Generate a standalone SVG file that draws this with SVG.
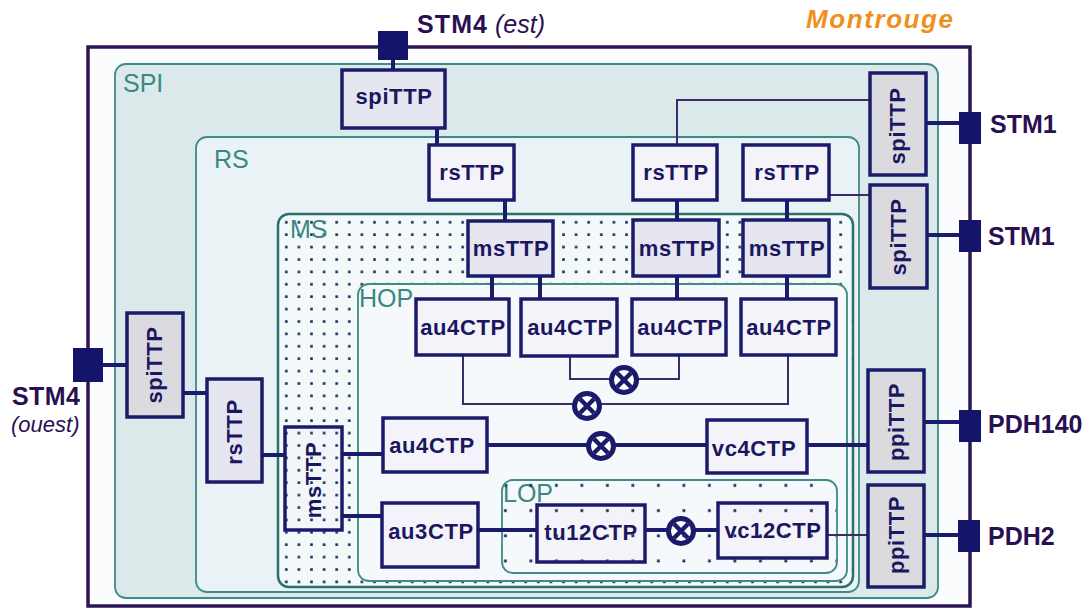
<svg xmlns="http://www.w3.org/2000/svg" width="1090" height="610" viewBox="0 0 1090 610">
<defs>
<pattern id="msdots" patternUnits="userSpaceOnUse" x="280" y="216" width="12.6" height="12.4">
<rect x="5" y="5" width="2.6" height="2.6" fill="#1c2a5e"/>
</pattern>
<pattern id="lopdots" patternUnits="userSpaceOnUse" x="493" y="474" width="25.5" height="25.2">
<rect x="11" y="10" width="2.8" height="2.8" fill="#1c2a5e"/>
</pattern>
<style>
.cont{stroke:#3f8b87;stroke-width:1.8}
.clab{font-family:"Liberation Sans",Arial,sans-serif;font-size:25px;fill:#3b8782}
.box{stroke:#1b1b6b;stroke-width:3.5}
.ttp{fill:#e6e6f0}
.vttp{fill:#dadadf}
.ctp{fill:#f3f3f9}
.t{font-family:"Liberation Sans",Arial,sans-serif;font-size:22px;font-weight:bold;fill:#1a1660;text-anchor:middle;letter-spacing:0.6px}
.port{fill:#14146a}
.thick{stroke:#1b1b6b;stroke-width:4;fill:none}
.thin{stroke:#3b2b6b;stroke-width:2;fill:none}
.ext{font-family:"Liberation Sans",Arial,sans-serif;font-size:25px;font-weight:bold;fill:#2a1052}
.xc circle{fill:#ffffff;stroke:#1b1b6b;stroke-width:5}
.xc path{stroke:#1b1b6b;stroke-width:4.5}
</style>
</defs>
<rect width="1090" height="610" fill="#ffffff"/>

<!-- titles -->
<text x="806" y="28" font-family="Liberation Sans,Arial,sans-serif" font-size="26" font-weight="bold" font-style="italic" fill="#f0901c" textLength="147" lengthAdjust="spacing">Montrouge</text>
<text x="417" y="33" class="ext"><tspan textLength="70">STM4</tspan><tspan font-weight="normal" font-style="italic"> (est)</tspan></text>

<!-- outer box -->
<g id="outer">
<rect x="88" y="47" width="882" height="559" fill="#fbfcfe" stroke="#2d1555" stroke-width="3.5"/>
</g>

<!-- containers -->
<g id="SPI">
<rect class="cont" x="115" y="64" width="823" height="534" rx="11" fill="#dbe9ea"/>
<text class="clab" x="123" y="92">SPI</text>
</g>
<g id="RS">
<rect class="cont" x="196" y="137" width="663" height="455" rx="11" fill="#e9f3f5"/>
<text class="clab" x="214" y="168">RS</text>
</g>
<g id="MS">
<rect x="278" y="214" width="575" height="373" rx="11" fill="#f3f8f9"/>
<rect x="278" y="214" width="575" height="373" rx="11" fill="url(#msdots)" stroke="#2f6f6a" stroke-width="2.5"/>
<text class="clab" x="290" y="238" fill="#2e7a74">MS</text>
</g>
<g id="HOP">
<rect class="cont" x="358" y="284" width="489" height="297" rx="11" fill="#f6f9fc"/>
<text class="clab" x="359" y="307">HOP</text>
</g>
<g id="LOP">
<rect class="cont" x="502" y="480" width="335" height="93" rx="11" fill="#f6f9fc"/>
<text class="clab" x="503" y="502">LOP</text>
</g>

<!-- connectors -->
<g id="connectors">
<path class="thick" d="M393,60V70"/>
<path class="thick" d="M437,128V145"/>
<path class="thick" d="M505,200V221"/>
<path class="thick" d="M677,200V220"/>
<path class="thick" d="M787,200V220"/>
<path class="thick" d="M492,276V299M540,276V299"/>
<path class="thick" d="M677,276V299"/>
<path class="thick" d="M787,276V299"/>
<path class="thin" d="M870,100H677V145"/>
<path class="thin" d="M829,195H870"/>
<path class="thick" d="M926,123H959M927,235H959M924,422H959M924,535H958"/>
<path class="thin" d="M463,355V404H788V355"/>
<path class="thin" d="M570,356V379H679V355"/>
<path class="thick" d="M102,365H127M183,393H207M262,455H285"/>
<path class="thick" d="M342,454H383M342,516H382"/>
<path class="thick" d="M487,445H707M807,445H868"/>
<path class="thick" d="M478,530H537M645,530H718"/>
<path class="thin" d="M827,535H868"/>
</g>

<!-- cross-connects -->
<g id="xc1" class="xc"><circle cx="624" cy="380" r="12.5"/><path d="M617,373L631,387M631,373L617,387"/></g>
<g id="xc2" class="xc"><circle cx="587" cy="406" r="12.5"/><path d="M580,399L594,413M594,399L580,413"/></g>
<g id="xc3" class="xc"><circle cx="601" cy="446" r="12.5"/><path d="M594,439L608,453M608,439L594,453"/></g>
<g id="xc4" class="xc"><circle cx="681" cy="531" r="12.5"/><path d="M674,524L688,538M688,524L674,538"/></g>

<!-- ports -->
<g id="port-stm4-est"><rect class="port" x="378" y="31" width="30" height="29"/></g>
<g id="port-stm4-ouest"><rect class="port" x="73" y="348" width="30" height="34"/></g>
<g id="port-stm1-a"><rect class="port" x="959" y="112" width="22" height="32"/></g>
<g id="port-stm1-b"><rect class="port" x="959" y="220" width="22" height="32"/></g>
<g id="port-pdh140"><rect class="port" x="959" y="410" width="22" height="32"/></g>
<g id="port-pdh2"><rect class="port" x="958" y="520" width="22" height="32"/></g>

<!-- external labels -->
<g id="lab-left">
<text class="ext" x="12" y="405" font-size="24" textLength="68">STM4</text>
<text x="11" y="432" font-family="Liberation Sans,Arial,sans-serif" font-size="22" font-style="italic" fill="#2a1052">(ouest)</text>
</g>
<text class="ext" x="990" y="133">STM1</text>
<text class="ext" x="988" y="245">STM1</text>
<text class="ext" x="988" y="433">PDH140</text>
<text class="ext" x="988" y="545">PDH2</text>

<!-- nodes -->
<g id="spiTTP-top"><rect class="box ttp" x="342" y="70" width="103" height="58"/><text class="t" x="394" y="104">spiTTP</text></g>
<g id="rsTTP-1"><rect class="box ctp" x="429" y="145" width="85" height="55"/><text class="t" x="472" y="180">rsTTP</text></g>
<g id="rsTTP-2"><rect class="box ctp" x="633" y="145" width="84" height="55"/><text class="t" x="676" y="180">rsTTP</text></g>
<g id="rsTTP-3"><rect class="box ctp" x="743" y="145" width="86" height="55"/><text class="t" x="787" y="180">rsTTP</text></g>
<g id="msTTP-1"><rect class="box ttp" x="468" y="221" width="85" height="55"/><text class="t" x="511" y="256">msTTP</text></g>
<g id="msTTP-2"><rect class="box ttp" x="633" y="220" width="86" height="56"/><text class="t" x="677" y="256">msTTP</text></g>
<g id="msTTP-3"><rect class="box ttp" x="743" y="220" width="86" height="56"/><text class="t" x="787" y="256">msTTP</text></g>
<g id="au4CTP-1"><rect class="box ctp" x="416" y="299" width="93" height="56"/><text class="t" x="463" y="335">au4CTP</text></g>
<g id="au4CTP-2"><rect class="box ctp" x="521" y="299" width="96" height="57"/><text class="t" x="570" y="335">au4CTP</text></g>
<g id="au4CTP-3"><rect class="box ctp" x="632" y="299" width="94" height="56"/><text class="t" x="680" y="335">au4CTP</text></g>
<g id="au4CTP-4"><rect class="box ctp" x="741" y="299" width="95" height="56"/><text class="t" x="789" y="335">au4CTP</text></g>
<g id="au4CTP-5"><rect class="box ctp" x="383" y="418" width="104" height="54"/><text class="t" x="432" y="453">au4CTP</text></g>
<g id="vc4CTP"><rect class="box ctp" x="707" y="420" width="100" height="53"/><text class="t" x="754" y="456">vc4CTP</text></g>
<g id="au3CTP"><rect class="box ctp" x="382" y="503" width="96" height="64"/><text class="t" x="431" y="539">au3CTP</text></g>
<g id="tu12CTP"><rect class="box ctp" x="537" y="505" width="108" height="57"/><text class="t" x="591" y="540">tu12CTP</text></g>
<g id="vc12CTP"><rect class="box ctp" x="718" y="503" width="109" height="55"/><text class="t" x="773" y="538">vc12CTP</text></g>
<g id="spiTTP-left"><rect class="box vttp" x="127" y="313" width="56" height="104"/><text class="t" transform="translate(162,365) rotate(-90)">spiTTP</text></g>
<g id="rsTTP-left"><rect class="box ttp" x="207" y="379" width="55" height="103"/><text class="t" transform="translate(242,432) rotate(-90)">rsTTP</text></g>
<g id="msTTP-left"><rect x="285" y="427" width="57" height="103" fill="#f3f6f8"/><rect class="box" x="285" y="427" width="57" height="103" fill="url(#msdots)"/><text class="t" transform="translate(321,480) rotate(-90)">msTTP</text></g>
<g id="spiTTP-r1"><rect class="box vttp" x="870" y="73" width="56" height="102"/><text class="t" transform="translate(905,126) rotate(-90)">spiTTP</text></g>
<g id="spiTTP-r2"><rect class="box vttp" x="870" y="185" width="57" height="103"/><text class="t" transform="translate(906,237) rotate(-90)">spiTTP</text></g>
<g id="ppiTTP-1"><rect class="box vttp" x="868" y="370" width="56" height="102"/><text class="t" transform="translate(904,422) rotate(-90)">ppiTTP</text></g>
<g id="ppiTTP-2"><rect class="box vttp" x="868" y="485" width="56" height="102"/><text class="t" transform="translate(904,535) rotate(-90)">ppiTTP</text></g>

<!-- LOP dot overlay -->
<rect x="503" y="481" width="333" height="91" rx="10" fill="url(#lopdots)" pointer-events="none"/>
</svg>
